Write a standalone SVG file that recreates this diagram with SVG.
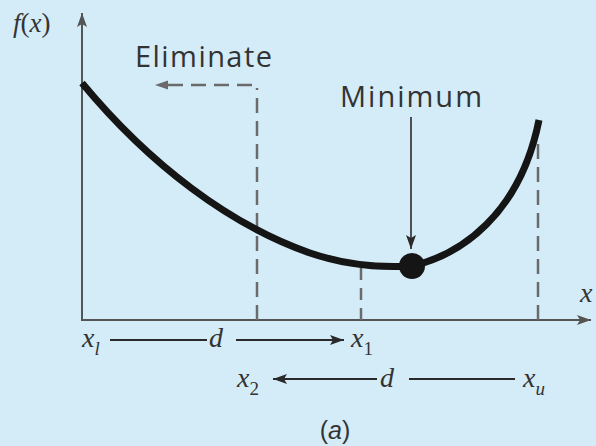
<svg xmlns="http://www.w3.org/2000/svg" width="596" height="446" viewBox="0 0 596 446">
<style>
.axis{stroke:#555;stroke-width:2;fill:none}
.dash{stroke:#6a6a6a;stroke-width:2.5;fill:none;stroke-dasharray:15 8}
.curve{stroke:#151515;stroke-width:7;fill:none}
.arr{stroke:#2a2a2a;stroke-width:2;fill:none}
.lbl{font-family:"Open Sans","Liberation Sans",Arial,sans-serif;font-size:29px;fill:#333}
.cap{font-family:"Liberation Sans",Arial,sans-serif;font-size:25px;fill:#333}
.math{font-family:"Liberation Serif","Times New Roman",serif;font-style:italic;fill:#333}
.up{font-style:normal}
</style>
<defs>
<marker id="ah" markerUnits="userSpaceOnUse" markerWidth="16" markerHeight="12" refX="14" refY="6" orient="auto"><path d="M0,1 L14,6 L0,11 L3,6 Z" fill="#2a2a2a"/></marker>
<marker id="ahg" markerUnits="userSpaceOnUse" markerWidth="16" markerHeight="12" refX="14" refY="6" orient="auto"><path d="M0,1 L14,6 L0,11 L3,6 Z" fill="#555"/></marker>
</defs>
<rect width="596" height="446" fill="#d4ecf8"/>
<g id="connectors">
<line class="axis" x1="82" y1="320" x2="82" y2="13" marker-end="url(#ahg)"/>
<line class="axis" x1="81" y1="320" x2="591" y2="320" marker-end="url(#ahg)"/>
<line class="dash" x1="257" y1="320" x2="257" y2="88"/>
<line class="dash" x1="252" y1="85" x2="168" y2="85"/>
<path d="M155,85 L168,80.5 L168,89.5 Z" fill="#6a6a6a"/>
<line class="dash" x1="361" y1="320" x2="361" y2="268" style="stroke-dasharray:12 8"/>
<line class="dash" x1="538" y1="320" x2="538" y2="143"/>
<line class="arr" x1="411" y1="117" x2="411" y2="249" style="stroke-width:1.6" marker-end="url(#ah)"/>
<line class="arr" x1="110" y1="340" x2="207" y2="340"/>
<line class="arr" x1="236" y1="340" x2="344" y2="340" marker-end="url(#ah)"/>
<line class="arr" x1="377" y1="379" x2="273" y2="379" marker-end="url(#ah)"/>
<line class="arr" x1="409" y1="379" x2="515" y2="379"/>
</g>
<g id="curve">
<path class="curve" d="M82,83 C150,165 230,225 310,253 C345,265 380,268 412,266 C460,255 520,215 539,120"/>
<circle cx="412" cy="266" r="13" fill="#151515"/>
</g>
<g id="labels">
<text class="math" x="13" y="32" font-size="27">f<tspan class="up">(</tspan>x<tspan class="up">)</tspan></text>
<text class="lbl" x="135" y="67" textLength="137" lengthAdjust="spacing">Eliminate</text>
<text class="lbl" x="340" y="107" textLength="142" lengthAdjust="spacing">Minimum</text>
<text class="math" x="580" y="302" font-size="28">x</text>
<text class="math" x="82" y="347" font-size="28">x<tspan font-size="19" dy="8">l</tspan></text>
<text class="math" x="209" y="347" font-size="28">d</text>
<text class="math" x="351" y="347" font-size="28">x<tspan class="up" font-size="19" dy="8">1</tspan></text>
<text class="math" x="237" y="387" font-size="28">x<tspan class="up" font-size="19" dy="8">2</tspan></text>
<text class="math" x="380" y="387" font-size="28">d</text>
<text class="math" x="523" y="387" font-size="28">x<tspan font-size="19" dy="8">u</tspan></text>
<text class="cap" x="335" y="439" text-anchor="middle">(<tspan font-style="italic">a</tspan>)</text>
</g>
</svg>
